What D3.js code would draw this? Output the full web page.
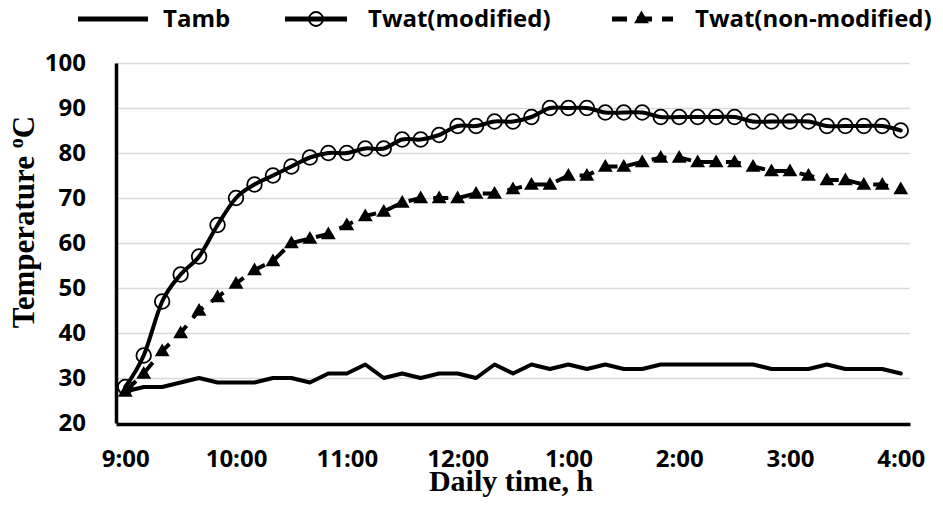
<!DOCTYPE html>
<html>
<head>
<meta charset="utf-8">
<script src="https://cdn.jsdelivr.net/npm/d3@7"></script>
<style>
  body { margin: 0; background: #fff; }
  svg { display: block; }
</style>
</head>
<body>
<div id="chart"></div>
<script>
// 10-minute readings, 9:00 am to 4:00 pm
const times = [
  "9:00", "9:10", "9:20", "9:30", "9:40", "9:50",
  "10:00", "10:10", "10:20", "10:30", "10:40", "10:50",
  "11:00", "11:10", "11:20", "11:30", "11:40", "11:50",
  "12:00", "12:10", "12:20", "12:30", "12:40", "12:50",
  "1:00", "1:10", "1:20", "1:30", "1:40", "1:50",
  "2:00", "2:10", "2:20", "2:30", "2:40", "2:50",
  "3:00", "3:10", "3:20", "3:30", "3:40", "3:50",
  "4:00"
];
const tamb = [
  27, 28, 28, 29, 30, 29, 29, 29, 30, 30, 29, 31, 31, 33, 30, 31, 30, 31, 31, 30, 33, 31,
  33, 32, 33, 32, 33, 32, 32, 33, 33, 33, 33, 33, 33, 32, 32, 32, 33, 32, 32, 32, 31
];
const twatModified = [
  28, 35, 47, 53, 57, 64, 70, 73, 75, 77, 79, 80, 80, 81, 81, 83, 83, 84, 86, 86, 87, 87,
  88, 90, 90, 90, 89, 89, 89, 88, 88, 88, 88, 88, 87, 87, 87, 87, 86, 86, 86, 86, 85
];
const twatNonModified = [
  27, 31, 36, 40, 45, 48, 51, 54, 56, 60, 61, 62, 64, 66, 67, 69, 70, 70, 70, 71, 71, 72,
  73, 73, 75, 75, 77, 77, 78, 79, 79, 78, 78, 78, 77, 76, 76, 75, 74, 74, 73, 73, 72
];
const xTickLabels = ["9:00", "10:00", "11:00", "12:00", "1:00", "2:00", "3:00", "4:00"];
const yTicks = [20, 30, 40, 50, 60, 70, 80, 90, 100];

const W = 943, H = 506;
const plot = { left: 116, right: 910, top: 63, bottom: 423 };
const tickFont = "'Open Sans', sans-serif";
const titleFont = "'Liberation Serif', 'Times New Roman', serif";

const svg = d3.select("#chart").append("svg")
  .attr("width", W).attr("height", H)
  .attr("viewBox", `0 0 ${W} ${H}`);

const x = d3.scalePoint().domain(times).range([plot.left, plot.right]).padding(0.5);
const y = d3.scaleLinear().domain([20, 100]).range([plot.bottom, plot.top]);

// gridlines
svg.append("g")
  .attr("transform", `translate(${plot.left},0)`)
  .call(d3.axisLeft(y).tickValues(yTicks.slice(1)).tickSize(-(plot.right - plot.left)).tickFormat(""))
  .call(g => g.select(".domain").remove())
  .call(g => g.selectAll("line").attr("stroke", "#d9d9d9").attr("stroke-width", 1.6));

// y axis
svg.append("g")
  .attr("transform", `translate(${plot.left},0)`)
  .call(d3.axisLeft(y).tickValues(yTicks).tickSize(0).tickSizeOuter(0).tickPadding(30))
  .call(g => g.select(".domain").attr("stroke", "#000").attr("stroke-width", 3.5))
  .call(g => g.selectAll("text")
    .attr("fill", "#000")
    .style("font-family", tickFont).style("font-weight", "bold").style("font-size", "24px"));

// x axis
svg.append("g")
  .attr("transform", `translate(0,${plot.bottom + 1})`)
  .call(d3.axisBottom(x).tickValues(xTickLabels).tickSize(0).tickSizeOuter(0).tickPadding(26))
  .call(g => g.select(".domain").attr("stroke", "#000").attr("stroke-width", 3.5))
  .call(g => g.selectAll("text")
    .attr("fill", "#000")
    .style("font-family", tickFont).style("font-weight", "bold").style("font-size", "24px"));

// series
const pts = vals => vals.map((v, i) => [x(times[i]), y(v)]);

svg.append("path")
  .attr("d", d3.line().curve(d3.curveLinear)(pts(tamb)))
  .attr("fill", "none").attr("stroke", "#000").attr("stroke-width", 4)
  .attr("stroke-linejoin", "round").attr("stroke-linecap", "round");

svg.append("path")
  .attr("d", d3.line().curve(d3.curveCardinal.tension(0))(pts(twatModified)))
  .attr("fill", "none").attr("stroke", "#000").attr("stroke-width", 4)
  .attr("stroke-linejoin", "round").attr("stroke-linecap", "round");

svg.append("g").selectAll("circle")
  .data(pts(twatModified))
  .join("circle")
  .attr("cx", d => d[0]).attr("cy", d => d[1]).attr("r", 7.3)
  .attr("fill", "none").attr("stroke", "#000").attr("stroke-width", 1.8);

svg.append("path")
  .attr("d", d3.line()(pts(twatNonModified)))
  .attr("fill", "none").attr("stroke", "#000").attr("stroke-width", 4)
  .attr("stroke-dasharray", "15,10");

const tri = d3.symbol().type(d3.symbolTriangle).size(95);
svg.append("g").selectAll("path")
  .data(pts(twatNonModified))
  .join("path")
  .attr("d", tri)
  .attr("transform", d => `translate(${d[0]},${d[1] + 1})`)
  .attr("fill", "#000");

// axis titles
svg.append("text")
  .attr("x", 511).attr("y", 491)
  .attr("text-anchor", "middle")
  .style("font-family", titleFont).style("font-weight", "bold").style("font-size", "30px")
  .text("Daily time, h");

const yTitle = svg.append("text")
  .attr("transform", "translate(34,222) rotate(-90)")
  .attr("text-anchor", "middle")
  .style("font-family", titleFont).style("font-weight", "bold").style("font-size", "31px");
yTitle.append("tspan").text("Temperature ");
yTitle.append("tspan").attr("dy", -11).style("font-size", "20px").text("o");
yTitle.append("tspan").attr("dy", 11).text("C");

// legend
const legend = svg.append("g");
const legendItems = [
  { name: "Tamb", x0: 78, x1: 148, tx: 163, mark: null, dash: null },
  { name: "Twat(modified)", x0: 285, x1: 347, tx: 368, mark: "circle", dash: null },
  { name: "Twat(non-modified)", x0: 612, x1: 673, tx: 695, mark: "triangle", dash: "15,10" }
];
legendItems.forEach(d => {
  const ly = 19;
  legend.append("line")
    .attr("x1", d.x0).attr("x2", d.x1).attr("y1", ly).attr("y2", ly)
    .attr("stroke", "#000").attr("stroke-width", 5)
    .attr("stroke-dasharray", d.dash);
  const cx = (d.x0 + d.x1) / 2;
  if (d.mark === "circle") {
    legend.append("circle").attr("cx", cx).attr("cy", ly).attr("r", 7)
      .attr("fill", "none").attr("stroke", "#000").attr("stroke-width", 1.8);
  } else if (d.mark === "triangle") {
    legend.append("path").attr("d", tri).attr("transform", `translate(${cx - 1},${ly})`).attr("fill", "#000");
  }
  legend.append("text")
    .attr("x", d.tx).attr("y", 27)
    .style("font-family", tickFont).style("font-weight", "bold").style("font-size", "24px")
    .text(d.name);
});
</script>
</body>
</html>
